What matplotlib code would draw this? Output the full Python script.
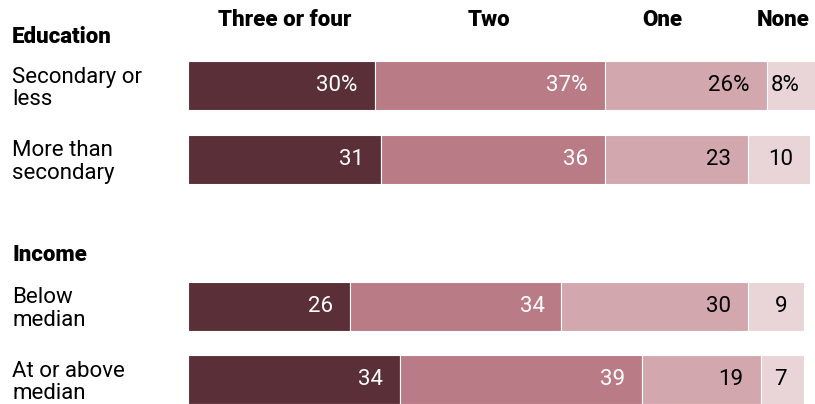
import matplotlib.pyplot as plt
import matplotlib.transforms as mtransforms
import numpy as np

groups = ["Education", "Income"]
rows = ["Secondary or\nless", "More than\nsecondary", "Below\nmedian", "At or above\nmedian"]
series = ["Three or four", "Two", "One", "None"]
three_four = [30, 31, 26, 34]
two = [37, 36, 34, 39]
one = [26, 23, 30, 19]
none = [8, 10, 9, 7]

colors = ["#5a2f38", "#b97b85", "#d2a7ae", "#e9d4d7"]
text_colors = ["white", "white", "black", "black"]

W, H = 815, 404
px_unit = 6.223          # pixels per percentage point
row_px = 73.5            # pixels per row slot
x0_px = 188
first_row_px = 85.5

plt.rcParams['font.family'] = ['Roboto', 'DejaVu Sans']

fig = plt.figure(figsize=(W / 100, H / 100), dpi=100)
ax = fig.add_axes([x0_px / W, 0, (W - x0_px) / W, 1])
ax.set_xlim(0, (W - x0_px) / px_unit)
ax.set_ylim((H - first_row_px) / row_px, -first_row_px / row_px)
ax.axis('off')

ypos = np.array([0, 1, 3, 4])
data = [three_four, two, one, none]
left = np.zeros(len(rows))
pad = 17 / px_unit
for k, vals in enumerate(data):
    vals = np.array(vals)
    ax.barh(ypos, vals, left=left, height=49 / row_px, color=colors[k],
            edgecolor='white', linewidth=0.8)
    for i, v in enumerate(vals):
        lab = f"{v}%" if i == 0 else str(v)
        ax.text(left[i] + v - pad, ypos[i], lab, ha='right', va='center',
                color=text_colors[k], fontsize=16)
    left = left + vals

# column headers
header_px = [285, 489, 662, 783]
for name, hx in zip(series, header_px):
    ax.text((hx - x0_px) / px_unit, (20 - first_row_px) / row_px, name,
            ha='center', va='center', fontsize=16, fontweight='heavy',
            clip_on=False)

trans = mtransforms.blended_transform_factory(fig.transFigure, ax.transData)
group_px = [37, 255]
for g, gy in zip(groups, group_px):
    ax.text(12 / W, (gy - first_row_px) / row_px, g, transform=trans,
            ha='left', va='center', fontsize=16, fontweight='heavy')
for i, r in enumerate(rows):
    ax.text(12 / W, ypos[i] + 3 / row_px, r, transform=trans, ha='left',
            va='center', fontsize=16, linespacing=1.1)

fig.savefig("out.png", dpi=100)
